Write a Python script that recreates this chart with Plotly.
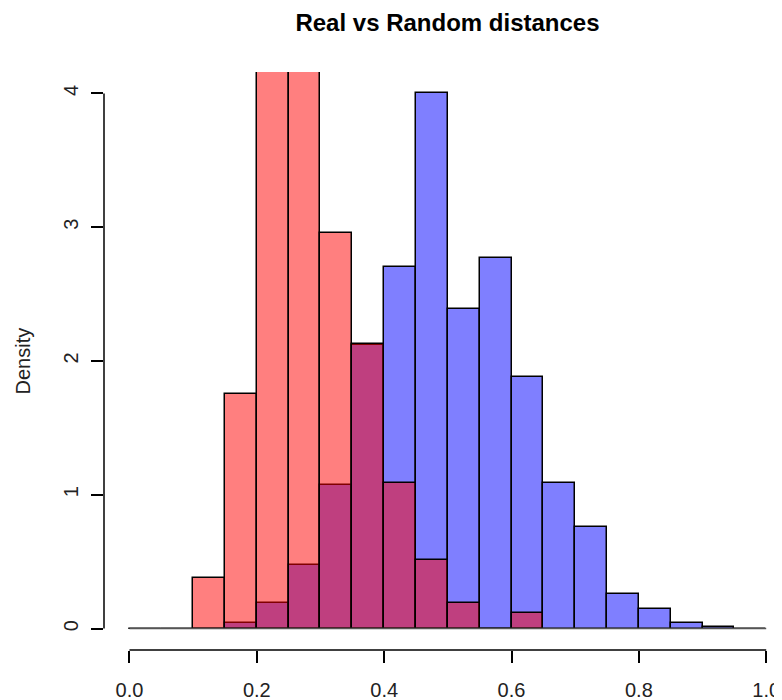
import plotly.graph_objects as go

# Histogram breaks (bin left edges) and densities
bin_width = 0.05
random_breaks = [0.00, 0.05, 0.10, 0.15, 0.20, 0.25, 0.30, 0.35, 0.40, 0.45,
                 0.50, 0.55, 0.60, 0.65, 0.70, 0.75, 0.80, 0.85, 0.90, 0.95]
random_density = [0.0, 0.0, 0.0, 0.045, 0.19, 0.475, 1.07, 2.12, 2.70, 4.00,
                  2.39, 2.77, 1.88, 1.09, 0.76, 0.255, 0.147, 0.045, 0.015, 0.0]

real_breaks = [0.10, 0.15, 0.20, 0.25, 0.30, 0.35, 0.40, 0.45, 0.50, 0.55, 0.60]
real_density = [0.38, 1.75, 5.30, 5.57, 2.96, 2.13, 1.09, 0.51, 0.19, 0.0, 0.12]

x_ticks = [0.0, 0.2, 0.4, 0.6, 0.8, 1.0]
x_tick_labels = ["0.0", "0.2", "0.4", "0.6", "0.8", "1.0"]
y_ticks = [0, 1, 2, 3, 4]
y_tick_labels = ["0", "1", "2", "3", "4"]

FONT = "Liberation Sans, Arial, sans-serif"

# page body has an 8px margin, so the figure is 8px smaller on each side
W, H = 774, 692

fig = go.Figure()

# baseline of zero-height bins (R draws them as flat lines)
fig.add_trace(go.Scatter(
    x=[random_breaks[0], random_breaks[-1] + bin_width], y=[0, 0],
    mode="lines", line=dict(color="#555555", width=1.5),
    hoverinfo="skip", showlegend=False))

fig.add_trace(go.Bar(
    x=random_breaks, y=random_density, width=bin_width, offset=0,
    marker=dict(color="rgba(0,0,255,0.5)", line=dict(color="black", width=1.5)),
    name="Random", showlegend=False))

fig.add_trace(go.Bar(
    x=real_breaks, y=real_density, width=bin_width, offset=0,
    marker=dict(color="rgba(255,0,0,0.5)", line=dict(color="black", width=1.5)),
    name="Real", showlegend=False))

# R-style axis lines spanning only the tick range
fig.add_shape(type="line", xref="paper", yref="y", x0=0, x1=0,
              y0=min(y_ticks), y1=max(y_ticks),
              line=dict(color="black", width=1.5), layer="above")
fig.add_shape(type="line", xref="x", yref="paper", y0=0, y1=0,
              x0=min(x_ticks), x1=max(x_ticks),
              line=dict(color="black", width=1.5), layer="above")

fig.add_annotation(text="Density", xref="paper", yref="paper", x=0, y=0.5,
                   xanchor="center", yanchor="middle", xshift=-81.5,
                   textangle=-90, showarrow=False,
                   font=dict(family=FONT, size=20, color="#222222"))

fig.update_layout(
    width=W, height=H,
    margin=dict(l=96, r=0, t=64, b=50),
    paper_bgcolor="white", plot_bgcolor="white",
    barmode="overlay", bargap=0,
    title=dict(text="<b>Real vs Random distances</b>",
               x=439.5 / W, xref="container", xanchor="center",
               y=1 - 14.5 / H, yref="container", yanchor="middle",
               font=dict(family=FONT, size=24, color="black")),
    font=dict(family=FONT, size=20, color="#222222"),
    xaxis=dict(range=[-0.04, 1.0248], tickvals=x_ticks, ticktext=x_tick_labels,
               ticks="outside", ticklen=12, tickwidth=1.5, tickcolor="black",
               showgrid=False, zeroline=False, showline=False,
               ticklabelstandoff=10),
    yaxis=dict(range=[-0.16, 4.16], tickvals=y_ticks, ticktext=y_tick_labels,
               ticks="outside", ticklen=12, tickwidth=1.5, tickcolor="black",
               tickangle=-90,
               showgrid=False, zeroline=False, showline=False,
               ticklabelstandoff=5),
)

fig.write_html("out.html")
